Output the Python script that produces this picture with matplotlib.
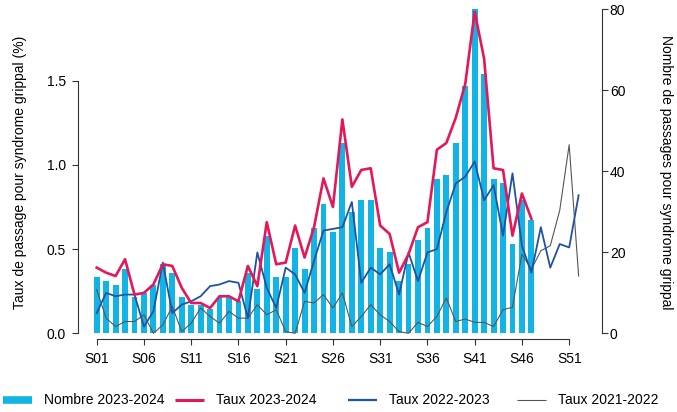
import numpy as np
import matplotlib
matplotlib.use("Agg")
import matplotlib.pyplot as plt
from matplotlib.lines import Line2D

plt.rcParams['font.family'] = ['Liberation Sans', 'DejaVu Sans']
plt.rcParams['font.size'] = 10

# weekly data (S01..S52)
weeks = np.arange(1, 53)
week_labels = [f"S{w:02d}" for w in weeks]

nombre_2324 = [14, 13, 12, 16, 9, 10, 12, 17, 15, 9,
               7, 7, 6, 9, 9, 8, 15, 11, 24, 14,
               14, 21, 16, 26, 32, 25, 47, 30, 33, 33,
               21, 20, 13, 17, 23, 26, 38, 39, 47, 61,
               80, 64, 38, 37, 22, 33, 28]

taux_2324 = [0.39, 0.36, 0.34, 0.44, 0.23, 0.24, 0.29, 0.41, 0.40, 0.27,
             0.18, 0.18, 0.15, 0.22, 0.22, 0.19, 0.40, 0.28, 0.66, 0.41,
             0.42, 0.64, 0.45, 0.63, 0.92, 0.75, 1.27, 0.87, 0.97, 0.98,
             0.64, 0.59, 0.36, 0.47, 0.63, 0.66, 1.09, 1.13, 1.28, 1.48,
             1.91, 1.63, 0.98, 0.97, 0.58, 0.83, 0.68]

taux_2223 = [0.12, 0.24, 0.22, 0.23, 0.23, 0.04, 0.13, 0.42, 0.12, 0.17,
             0.19, 0.22, 0.28, 0.29, 0.31, 0.30, 0.09, 0.48, 0.27, 0.15,
             0.39, 0.35, 0.24, 0.43, 0.61, 0.62, 0.63, 0.78, 0.30, 0.39,
             0.35, 0.41, 0.23, 0.48, 0.31, 0.48, 0.50, 0.72, 0.89, 0.93,
             1.02, 0.79, 0.88, 0.58, 0.95, 0.52, 0.36, 0.63, 0.39, 0.53,
             0.51, 0.82]

taux_2122 = [0.26, 0.09, 0.04, 0.07, 0.07, 0.11, 0.00, 0.05, 0.16, 0.01,
             0.06, 0.15, 0.10, 0.06, 0.13, 0.09, 0.09, 0.17, 0.11, 0.14,
             0.01, 0.00, 0.19, 0.18, 0.23, 0.15, 0.24, 0.04, 0.10, 0.17,
             0.11, 0.07, 0.01, 0.00, 0.065, 0.04, 0.10, 0.21, 0.07, 0.085,
             0.065, 0.065, 0.04, 0.14, 0.155, 0.47, 0.38, 0.49, 0.52, 0.73,
             1.12, 0.34]

c_bar = '#12B4E6'
c_red = '#E5175A'
c_blue = '#1F52A3'
c_grey = '#555555'
c_axis = '#333333'

W, H = 677, 412
fig = plt.figure(figsize=(W / 100, H / 100), dpi=100)
ax = fig.add_axes([77.5 / W, (H - 339.3) / H, (601.5 - 77.5) / W, (339.3 - 5) / H])

# bars on the base axes (right scale), lines on a twin (left scale) so lines sit on top
n = len(nombre_2324)
ax.bar(weeks[:n], nombre_2324, width=0.62, color=c_bar, edgecolor='none', zorder=1)
ax.set_xlim(-1.03, 54.42)
ax.set_ylim(-1.48, 81.06)

ax2 = ax.twinx()
ax2.plot(weeks, taux_2122, color=c_grey, lw=0.8, zorder=2)
ax2.plot(weeks, taux_2223, color=c_blue, lw=1.3, zorder=3)
ax2.plot(weeks[:len(taux_2324)], taux_2324, color=c_red, lw=1.9, zorder=4)
ax2.set_ylim(-0.0356, 1.9495)

# axes in the R style: right axis for counts, left for rates
ax.yaxis.tick_right()
ax.yaxis.set_label_position('right')
ax2.yaxis.tick_left()
ax2.yaxis.set_label_position('left')

for s in ['left', 'top']:
    ax.spines[s].set_visible(False)
for s in ['right', 'top', 'bottom']:
    ax2.spines[s].set_visible(False)
ax.spines['right'].set_bounds(0, 80)
ax.spines['bottom'].set_bounds(1, 51)
ax2.spines['left'].set_bounds(0, 1.5)
for sp in [ax.spines['right'], ax.spines['bottom'], ax2.spines['left']]:
    sp.set_color(c_axis)
    sp.set_linewidth(0.8)

ax.set_xticks(weeks[::5])
ax.set_xticklabels(week_labels[::5])
ax.set_yticks([0, 20, 40, 60, 80])
ax2.set_yticks([0, 0.5, 1.0, 1.5])
ax2.set_yticklabels(['0.0', '0.5', '1.0', '1.5'])
ax.tick_params(axis='x', length=4.5, width=0.8, color=c_axis, pad=5, labelsize=10)
ax.tick_params(axis='y', length=4, width=0.8, color=c_axis, pad=2, labelsize=10)
ax2.tick_params(axis='y', length=4.5, width=0.8, color=c_axis, pad=4, labelsize=10)

ax2.set_ylabel('Taux de passage pour syndrome grippal (%)', fontsize=10, labelpad=14)
ax.set_ylabel('Nombre de passages pour syndrome grippal', fontsize=10,
              rotation=270, labelpad=34)

# legend row at the bottom, one entry per fixed slot
handles = [
    Line2D([], [], color=c_bar, lw=5.5, solid_capstyle='butt'),
    Line2D([], [], color=c_red, lw=2.2, solid_capstyle='butt'),
    Line2D([], [], color=c_blue, lw=1.6, solid_capstyle='butt'),
    Line2D([], [], color=c_grey, lw=0.8, solid_capstyle='butt'),
]
labels = ['Nombre 2023-2024', 'Taux 2023-2024', 'Taux 2022-2023', 'Taux 2021-2022']
slots = [3, 175, 348, 517]
for h, lab, x0 in zip(handles, labels, slots):
    fig.legend([h], [lab], loc='center left', bbox_to_anchor=(x0 / W, 1 - 400.5 / H),
               frameon=False, borderpad=0, borderaxespad=0,
               handlelength=2.1, handletextpad=0.85, fontsize=10)

fig.savefig('out.png', dpi=100)
